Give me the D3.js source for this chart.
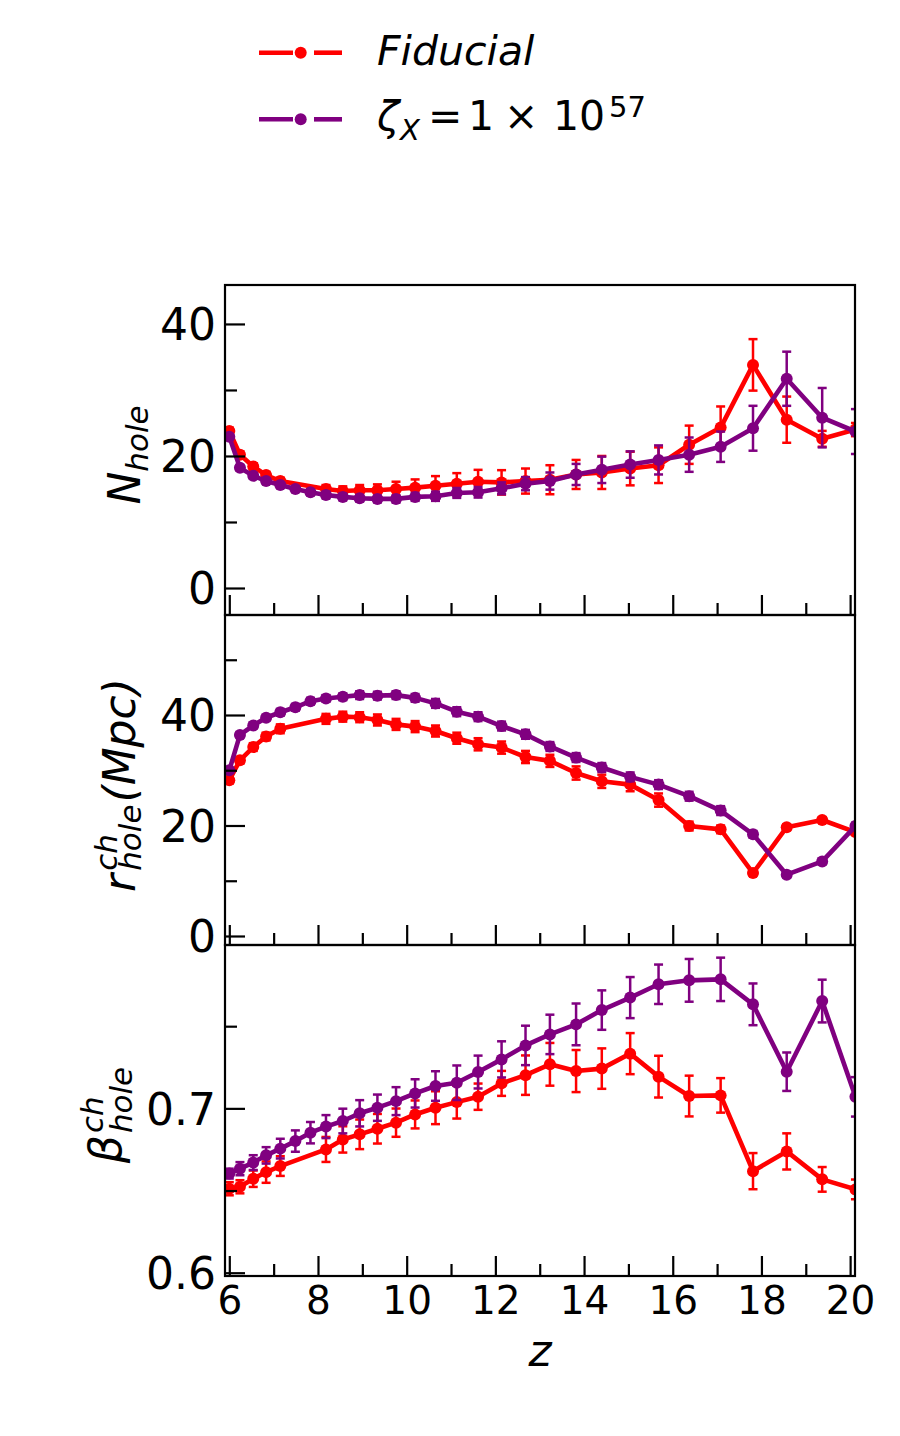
<!DOCTYPE html>
<html>
<head>
<meta charset="utf-8">
<script src="https://cdn.jsdelivr.net/npm/d3@7/dist/d3.min.js"></script>
<style>
  body { margin: 0; background: #fff; }
  svg { display: block; font-family: "DejaVu Sans", sans-serif; }
</style>
</head>
<body>
<div id="chart"></div>
<script>
// Rotverschiebungen der Snapshots
const redshift = [6.00, 6.24, 6.54, 6.83, 7.15, 7.49, 7.83, 8.18, 8.56, 8.94, 9.34, 9.76, 10.19, 10.65,
  11.13, 11.61, 12.14, 12.68, 13.23, 13.82, 14.40, 15.04, 15.68, 16.37, 17.08, 17.81, 18.57, 19.37, 20.12];

// N_hole
const nHoleFid = [23.8, 20.2, 18.4, 17.1, 16.2, null, null, 15.0, 14.7, 14.8, 14.8, 15.0, 15.2, 15.5,
  15.8, 16.1, 16.0, 16.2, 16.4, 17.2, 17.5, 18.1, 18.6, 21.7, 24.3, 33.8, 25.5, 22.6, 24.0];
const nHoleFidErr = [0.5, 0.5, 0.5, 0.5, 0.5, null, null, 0.6, 0.7, 0.8, 0.9, 1.1, 1.25, 1.45,
  1.6, 1.8, 1.85, 1.9, 2.2, 2.2, 2.5, 2.55, 2.7, 2.9, 3.2, 3.9, 3.5, 1.2, 1.0];
const nHoleZeta = [22.9, 18.2, 17.0, 16.2, 15.6, 15.0, 14.5, 14.1, 13.8, 13.6, 13.5, 13.5, 13.8, 13.9,
  14.4, 14.5, 15.1, 15.8, 16.2, 17.2, 17.9, 18.7, 19.4, 20.2, 21.4, 24.2, 31.7, 25.8, 23.7];
const nHoleZetaErr = [0.4, 0.4, 0.4, 0.4, 0.4, 0.4, 0.45, 0.5, 0.5, 0.5, 0.5, 0.55, 0.6, 0.7,
  0.75, 0.8, 0.9, 1.0, 1.3, 1.6, 2.0, 2.0, 2.2, 2.6, 2.3, 3.4, 4.1, 4.5, 3.4];

// r_hole^ch (Mpc)
const rHoleFid = [28.2, 31.8, 34.2, 36.1, 37.5, null, null, 39.3, 39.7, 39.6, 39.1, 38.3, 37.9, 37.1,
  35.8, 34.7, 34.1, 32.4, 31.7, 29.5, 28.0, 27.4, 24.6, 19.9, 19.3, 11.4, 19.7, 21.0, 18.8];
const rHoleFidErr = [0.6, 0.6, 0.7, 0.7, 0.8, null, null, 0.9, 0.9, 0.9, 1.0, 1.0, 1.0, 1.0,
  1.0, 1.1, 1.1, 1.1, 1.1, 1.2, 1.2, 1.2, 1.2, 0.8, 0.7, 0.5, 0.5, 0.5, 0.5];
const rHoleZeta = [30.0, 36.4, 38.1, 39.5, 40.5, 41.4, 42.5, 43.0, 43.3, 43.6, 43.5, 43.6, 43.1, 42.1,
  40.6, 39.7, 38.0, 36.5, 34.3, 32.3, 30.5, 28.8, 27.4, 25.3, 22.7, 18.4, 11.1, 13.5, 19.9];
const rHoleZetaErr = [0.4, 0.5, 0.5, 0.5, 0.6, 0.6, 0.6, 0.6, 0.6, 0.7, 0.7, 0.7, 0.7, 0.8,
  0.8, 0.8, 0.8, 0.8, 0.8, 0.8, 0.8, 0.8, 0.8, 0.8, 0.8, 0.6, 0.5, 0.5, 0.6];

// beta_hole^ch
const betaFid = [0.6511, 0.6523, 0.6572, 0.6612, 0.6649, null, null, 0.6750, 0.6811, 0.6842, 0.6876,
  0.6913, 0.6963, 0.7004, 0.7038, 0.7071, 0.7152, 0.7202, 0.7268, 0.7227, 0.7242, 0.7333, 0.7193,
  0.7075, 0.7079, 0.6618, 0.6738, 0.6568, 0.6507];
const betaFidErr = [0.004, 0.004, 0.005, 0.0065, 0.006, null, null, 0.0076, 0.008, 0.009, 0.009,
  0.0086, 0.0085, 0.010, 0.010, 0.008, 0.0076, 0.012, 0.013, 0.0128, 0.0123, 0.0125, 0.0127,
  0.0124, 0.0105, 0.011, 0.011, 0.0075, 0.006];
const betaZeta = [0.6603, 0.6633, 0.6670, 0.6714, 0.6755, 0.6801, 0.6852, 0.6889, 0.6923, 0.6970,
  0.7004, 0.7044, 0.7091, 0.7136, 0.7156, 0.7221, 0.7298, 0.7383, 0.7450, 0.7511, 0.7598, 0.7674,
  0.7755, 0.7779, 0.7785, 0.7633, 0.7223, 0.7653, 0.7070];
const betaZetaErr = [0.003, 0.004, 0.0045, 0.005, 0.006, 0.0065, 0.0065, 0.007, 0.0075, 0.008,
  0.008, 0.0085, 0.0086, 0.009, 0.0105, 0.010, 0.011, 0.012, 0.012, 0.0127, 0.012, 0.0125, 0.012,
  0.013, 0.0132, 0.0127, 0.0117, 0.013, 0.012];

const xMajorTicks = [6, 8, 10, 12, 14, 16, 18, 20];
const xMinorTicks = [7, 9, 11, 13, 15, 17, 19];

const seriesNames = ["Fiducial", "zeta"];
const colors = { Fiducial: "#ff0000", zeta: "#800080" };

// Layout
const W = 900, H = 1436;
const left = 225, right = 855;
const panelEdges = [285, 615, 945, 1276];

const svg = d3.select("#chart").append("svg")
  .attr("width", W).attr("height", H);

const x = d3.scaleLinear().domain([5.903, 20.11]).range([left, right]);

const panels = [
  {
    domain: [-4.09, 45.9], major: [0, 20, 40], minor: [10, 30], fmt: d3.format("d"),
    series: { Fiducial: [nHoleFid, nHoleFidErr], zeta: [nHoleZeta, nHoleZetaErr] }
  },
  {
    domain: [-1.63, 58.1], major: [0, 20, 40], minor: [10, 30, 50], fmt: d3.format("d"),
    series: { Fiducial: [rHoleFid, rHoleFidErr], zeta: [rHoleZeta, rHoleZetaErr] }
  },
  {
    domain: [0.598, 0.7994], major: [0.6, 0.7], minor: [0.65, 0.75], fmt: d3.format(".1f"),
    series: { Fiducial: [betaFid, betaFidErr], zeta: [betaZeta, betaZetaErr] }
  }
];

function styleAxis(sel, fontSize) {
  sel.select(".domain").remove();
  sel.selectAll("line").attr("stroke", "#000").attr("stroke-width", 2.2);
  sel.selectAll("text").attr("font-size", fontSize).attr("fill", "#000")
    .attr("font-family", "DejaVu Sans");
}

panels.forEach((p, i) => {
  const top = panelEdges[i], bottom = panelEdges[i + 1];
  const y = d3.scaleLinear().domain(p.domain).range([bottom, top]);
  const g = svg.append("g");

  const clipId = "clip" + i;
  svg.append("clipPath").attr("id", clipId)
    .append("rect").attr("x", left).attr("y", top)
    .attr("width", right - left).attr("height", bottom - top);

  const plot = g.append("g").attr("clip-path", `url(#${clipId})`);

  seriesNames.forEach(name => {
    const [vals, errs] = p.series[name];
    const pts = redshift.map((z, k) => ({ z, v: vals[k], e: errs[k] }))
      .filter(d => d.v != null);
    const col = colors[name];

    const line = d3.line().x(d => x(d.z)).y(d => y(d.v));
    plot.append("path").datum(pts)
      .attr("fill", "none").attr("stroke", col)
      .attr("stroke-width", 4.6).attr("stroke-linejoin", "round")
      .attr("d", line);

    const eb = plot.append("g").attr("stroke", col).attr("stroke-width", 2.5);
    pts.forEach(d => {
      const x0 = x(d.z), y1 = y(d.v + d.e), y2 = y(d.v - d.e);
      eb.append("line").attr("x1", x0).attr("x2", x0).attr("y1", y1).attr("y2", y2);
      eb.append("line").attr("x1", x0 - 4.5).attr("x2", x0 + 4.5).attr("y1", y1).attr("y2", y1);
      eb.append("line").attr("x1", x0 - 4.5).attr("x2", x0 + 4.5).attr("y1", y2).attr("y2", y2);
    });

    plot.append("g").selectAll("circle").data(pts).join("circle")
      .attr("cx", d => x(d.z)).attr("cy", d => y(d.v))
      .attr("r", 6).attr("fill", col);
  });

  // Achsen (Ticks nach innen)
  g.append("g").attr("transform", `translate(${left},0)`)
    .call(d3.axisLeft(y).tickValues(p.major).tickSize(-20).tickPadding(9).tickFormat(p.fmt))
    .call(s => styleAxis(s, 44))
    .call(s => s.selectAll("text").attr("dy", "0.36em"));
  g.append("g").attr("transform", `translate(${left},0)`)
    .call(d3.axisLeft(y).tickValues(p.minor).tickSize(-12).tickFormat(""))
    .call(s => styleAxis(s, 44));

  const isLast = i === panels.length - 1;
  g.append("g").attr("transform", `translate(0,${bottom})`)
    .call(d3.axisBottom(x).tickValues(xMajorTicks).tickSize(-20).tickPadding(10)
      .tickFormat(isLast ? d3.format("d") : ""))
    .call(s => styleAxis(s, 39));
  g.append("g").attr("transform", `translate(0,${bottom})`)
    .call(d3.axisBottom(x).tickValues(xMinorTicks).tickSize(-12).tickFormat(""))
    .call(s => styleAxis(s, 39));

  g.append("rect").attr("x", left).attr("y", top)
    .attr("width", right - left).attr("height", bottom - top)
    .attr("fill", "none").attr("stroke", "#000").attr("stroke-width", 2.2);
});

// Achsentitel mit Hoch-/Tiefstellung (gedreht)
function mathLabel(bx, cy, pieces) {
  const g = svg.append("g").attr("transform", `translate(${bx},${cy}) rotate(-90)`);
  let cursor = 0, groupStart = 0, groupEnd = 0;
  pieces.forEach(pc => {
    const gap = pc.gap || 0;
    const startX = pc.stack ? groupStart : cursor + gap;
    const t = g.append("text").attr("x", startX).attr("y", pc.dy || 0)
      .attr("font-size", pc.size).attr("font-style", "italic")
      .text(pc.t);
    const w = t.node().getComputedTextLength();
    if (!pc.stack) groupStart = startX;
    const end = startX + w;
    groupEnd = pc.stack ? Math.max(groupEnd, end) : end;
    cursor = groupEnd;
  });
  g.selectAll("text").attr("transform", `translate(${-cursor / 2},0)`);
}

mathLabel(140, 455, [
  { t: "N", size: 44 },
  { t: "hole", size: 31, dy: 8 }
]);
mathLabel(135, 785, [
  { t: "r", size: 44 },
  { t: "ch", size: 31, dy: -18, gap: 3 },
  { t: "hole", size: 31, dy: 6, stack: true },
  { t: "(Mpc)", size: 44, gap: 2 }
]);
mathLabel(121, 1115, [
  { t: "β", size: 44 },
  { t: "ch", size: 31, dy: -18, gap: 2 },
  { t: "hole", size: 31, dy: 11, stack: true }
]);

svg.append("text").attr("x", (left + right) / 2).attr("y", 1366)
  .attr("text-anchor", "middle").attr("font-size", 44).attr("font-style", "italic")
  .text("z");

// Legende
const legendRows = [
  { name: "Fiducial", y: 52.7 },
  { name: "zeta", y: 119.3 }
];
const lg = svg.append("g");
legendRows.forEach(row => {
  const col = colors[row.name];
  lg.append("line").attr("x1", 259).attr("x2", 293).attr("y1", row.y).attr("y2", row.y)
    .attr("stroke", col).attr("stroke-width", 4.6);
  lg.append("line").attr("x1", 314).attr("x2", 342).attr("y1", row.y).attr("y2", row.y)
    .attr("stroke", col).attr("stroke-width", 4.6);
  lg.append("circle").attr("cx", 300.7).attr("cy", row.y).attr("r", 6).attr("fill", col);
});
lg.append("text").attr("x", 377).attr("y", 65).attr("font-size", 41)
  .attr("font-style", "italic").text("Fiducial");
const lt = lg.append("g").attr("font-size", 41);
lt.append("text").attr("x", 377).attr("y", 130).attr("font-style", "italic").text("ζ");
lt.append("text").attr("x", 400).attr("y", 140).attr("font-size", 29).attr("font-style", "italic").text("X");
lt.append("text").attr("x", 428).attr("y", 130).text("=");
lt.append("text").attr("x", 468).attr("y", 130).text("1");
lt.append("text").attr("x", 504).attr("y", 130).text("×");
lt.append("text").attr("x", 553).attr("y", 130).text("10");
lt.append("text").attr("x", 609).attr("y", 117).attr("font-size", 29).text("57");
</script>
</body>
</html>
